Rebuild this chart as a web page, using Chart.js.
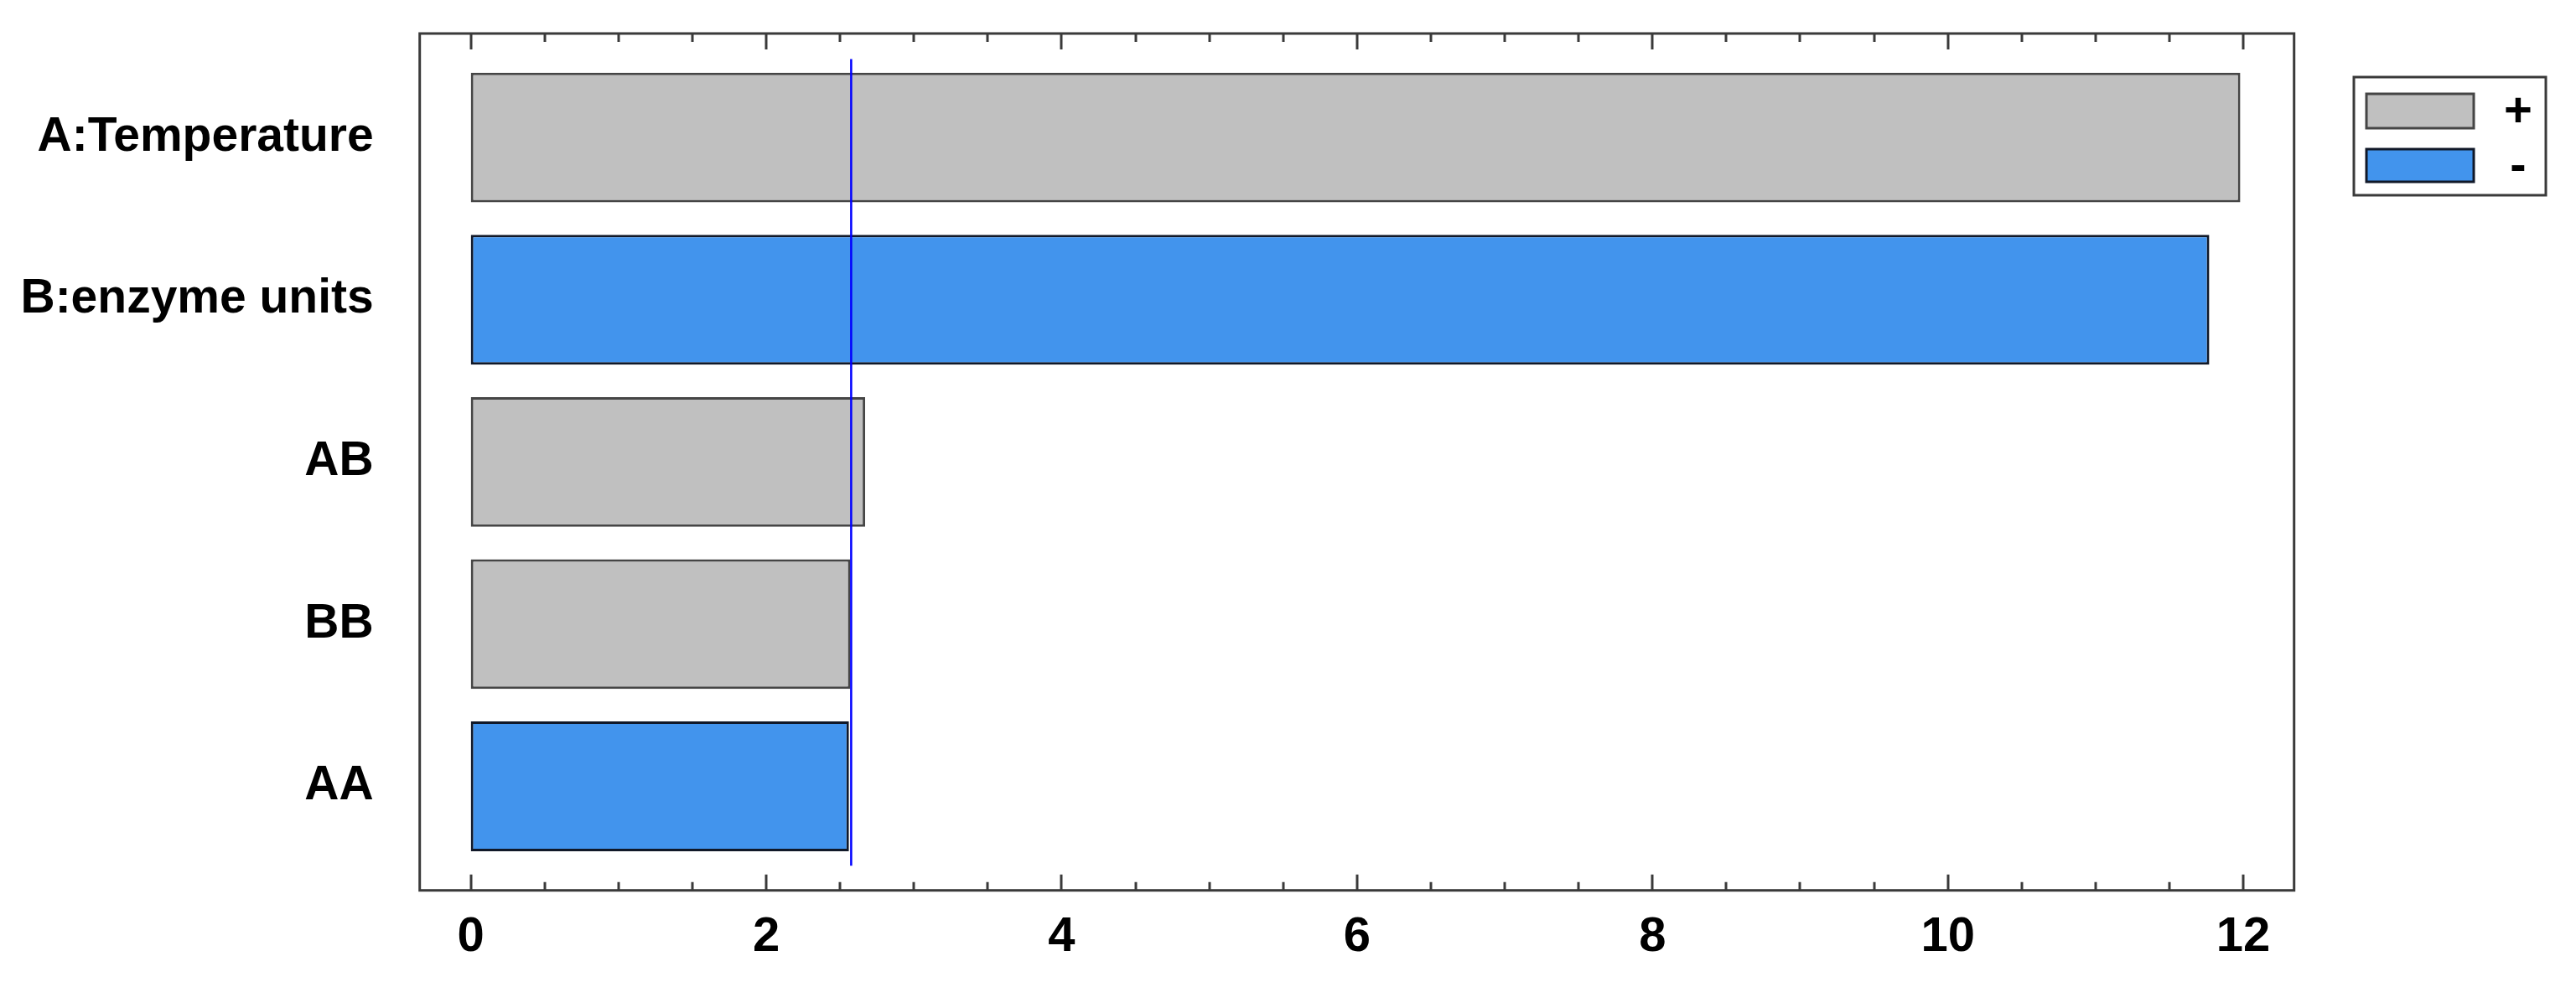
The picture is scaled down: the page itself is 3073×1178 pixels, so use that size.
<!DOCTYPE html>
<html>
<head>
<meta charset="utf-8">
<script src="https://cdn.jsdelivr.net/npm/chart.js@4"></script>
<style>
  html, body { margin: 0; padding: 0; background: #ffffff; }
  #wrap { width: 3073px; height: 1178px; }
</style>
</head>
<body>
<div id="wrap"><canvas id="c" width="3073" height="1178"></canvas></div>
<script>
// ---- data ----
const categories = ['A:Temperature', 'B:enzyme units', 'AB', 'BB', 'AA'];
const effects    = [11.98, 11.77, 2.67, 2.57, 2.56];
const signs      = ['+', '-', '+', '+', '-'];
const legendLabels = ['+', '-'];
const criticalValue = 2.575;
const xMin = -0.346, xMax = 12.344;
const xMajorStep = 2, xMinorStep = 0.5;

const plusValues  = effects.map((v, i) => signs[i] === '+' ? v : null);
const minusValues = effects.map((v, i) => signs[i] === '-' ? v : null);

const GRAY = '#c0c0c0', BLUE = 'rgb(66,148,237)';
const FONT = "'Liberation Sans', Arial, sans-serif";

const framePlugin = {
  id: 'frame',
  afterDatasetsDraw(chart) {
    const { ctx, chartArea: a, scales } = chart;
    const xs = scales.x;
    const top = a.top - 27.4, bottom = a.bottom + 27.4;
    ctx.save();
    // critical value line
    const lx = xs.getPixelForValue(criticalValue);
    ctx.strokeStyle = '#0000ff';
    ctx.lineWidth = 2.5;
    ctx.beginPath();
    ctx.moveTo(lx, a.top + 3);
    ctx.lineTo(lx, a.bottom - 2);
    ctx.stroke();
    // frame
    ctx.strokeStyle = '#3a3a3a';
    ctx.lineWidth = 3;
    ctx.strokeRect(a.left, top, a.right - a.left, bottom - top);
    // ticks
    ctx.lineWidth = 3;
    xs.ticks.forEach(t => {
      const px = Math.round(xs.getPixelForValue(t.value));
      const major = Math.abs(t.value / xMajorStep - Math.round(t.value / xMajorStep)) < 1e-6;
      const len = major ? 19 : 10;
      ctx.beginPath();
      ctx.moveTo(px, bottom); ctx.lineTo(px, bottom - len);
      ctx.moveTo(px, top); ctx.lineTo(px, top + len);
      ctx.stroke();
    });
    // legend
    const lg = { x: 2808, y: 92, w: 229, h: 141 };
    ctx.strokeStyle = '#3a3a3a';
    ctx.lineWidth = 3;
    ctx.fillStyle = '#ffffff';
    ctx.fillRect(lg.x, lg.y, lg.w, lg.h);
    ctx.strokeRect(lg.x, lg.y, lg.w, lg.h);
    const ds = chart.data.datasets;
    const rows = [{ y: 112, h: 41 }, { y: 178, h: 39 }];
    rows.forEach((r, i) => {
      ctx.fillStyle = ds[i].backgroundColor;
      ctx.fillRect(2823, r.y, 128, r.h);
      ctx.strokeStyle = ds[i].borderColor;
      ctx.lineWidth = 3;
      ctx.strokeRect(2823, r.y, 128, r.h);
      ctx.fillStyle = '#000000';
      ctx.font = 'bold 58px ' + FONT;
      ctx.textAlign = 'center';
      ctx.textBaseline = 'middle';
      ctx.fillText(ds[i].label, 3004, r.y + r.h / 2 + 2);
    });
    ctx.restore();
  }
};

new Chart(document.getElementById('c'), {
  type: 'bar',
  data: {
    labels: categories,
    datasets: [
      { label: legendLabels[0], data: plusValues, backgroundColor: GRAY, borderColor: '#454545' },
      { label: legendLabels[1], data: minusValues, backgroundColor: BLUE, borderColor: '#101828' }
    ]
  },
  options: {
    indexAxis: 'y',
    responsive: false,
    animation: false,
    devicePixelRatio: 1,
    layout: { padding: { left: 0, right: 336.3, top: 67.4, bottom: 0 } },
    datasets: {
      bar: {
        grouped: false,
        barPercentage: 0.8,
        categoryPercentage: 1.0,
        borderWidth: 3,
        borderSkipped: false
      }
    },
    plugins: { legend: { display: false }, tooltip: { enabled: false } },
    scales: {
      x: {
        type: 'linear',
        min: xMin, max: xMax,
        grid: { display: false, drawTicks: false },
        border: { display: false },
        ticks: {
          stepSize: xMinorStep,
          includeBounds: false,
          autoSkip: false,
          maxRotation: 0,
          padding: 49,
          color: '#000000',
          font: { family: FONT, size: 58, weight: 'bold' },
          callback: v => (Math.abs(v / xMajorStep - Math.round(v / xMajorStep)) < 1e-6 ? String(Math.round(v)) : '')
        },
        afterFit(s) { s.height = 142.7; s.paddingLeft = 0; s.paddingRight = 0; }
      },
      y: {
        grid: { display: false, drawTicks: false },
        border: { display: false },
        ticks: {
          padding: 55,
          color: '#000000',
          font: { family: FONT, size: 57, weight: 'bold' }
        },
        afterFit(s) { s.width = 500.7; s.paddingTop = 0; s.paddingBottom = 0; }
      }
    }
  },
  plugins: [framePlugin]
});
</script>
</body>
</html>
